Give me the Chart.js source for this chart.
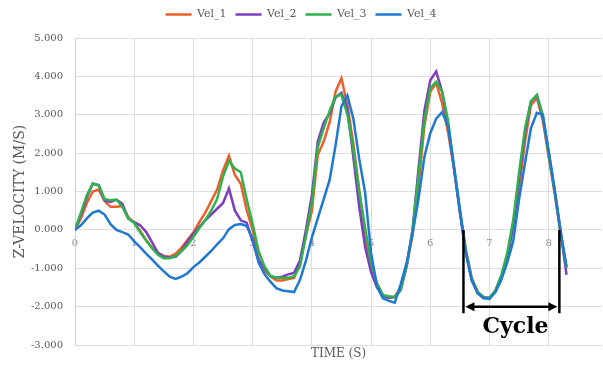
<!DOCTYPE html>
<html>
<head>
<meta charset="utf-8">
<script src="https://cdn.jsdelivr.net/npm/chart.js@4.4.1/dist/chart.umd.min.js"></script>
<style>
  html, body { margin: 0; padding: 0; background: #fff; }
  #wrap { width: 603px; height: 365px; }
</style>
</head>
<body>
<div id="wrap"><canvas id="velocityChart"></canvas></div>
<script>
// time samples (s)
const timeS = [
  0, 0.1, 0.2, 0.3, 0.4, 0.5, 0.6, 0.7, 0.8, 0.9,
  1.0, 1.1, 1.2, 1.3, 1.4, 1.5, 1.6, 1.7, 1.8, 1.9,
  2.0, 2.1, 2.2, 2.3, 2.4, 2.5, 2.6, 2.7, 2.8, 2.9,
  3.0, 3.1, 3.2, 3.3, 3.4, 3.5, 3.6, 3.7, 3.8, 3.9,
  4.0, 4.1, 4.2, 4.3, 4.4, 4.5, 4.6, 4.7, 4.8, 4.9,
  5.0, 5.1, 5.2, 5.3, 5.4, 5.5, 5.6, 5.7, 5.8, 5.9,
  6.0, 6.1, 6.2, 6.3, 6.4, 6.5, 6.6, 6.7, 6.8, 6.9,
  7.0, 7.1, 7.2, 7.3, 7.4, 7.5, 7.6, 7.7, 7.8, 7.9,
  8.0, 8.1, 8.2, 8.3
];

// z-velocity (m/s)
const vel1 = [
  0, 0.3, 0.7, 1.0, 1.05, 0.75, 0.6, 0.6, 0.62, 0.33,
  0.18, -0.02, -0.26, -0.46, -0.6, -0.68, -0.7, -0.62, -0.46, -0.26,
  -0.06, 0.2, 0.45, 0.75, 1.05, 1.55, 1.93, 1.43, 1.2, 0.51,
  0.0, -0.75, -1.05, -1.21, -1.32, -1.32, -1.28, -1.25, -0.86, -0.15,
  0.5, 1.95, 2.3, 2.8, 3.6, 3.95, 3.25, 2.26, 1.05, -0.15,
  -1.0, -1.4, -1.7, -1.77, -1.74, -1.5, -0.95, -0.15, 1.14, 2.7,
  3.6, 3.83, 3.3, 2.55, 1.6, 0.5, -0.5, -1.25, -1.62, -1.75,
  -1.78, -1.58, -1.22, -0.72, 0.15, 1.1, 2.3, 3.25, 3.44, 2.85,
  1.9, 0.95, -0.1, -1.0
];
const vel2 = [
  0, 0.4, 0.85, 1.2, 1.16, 0.77, 0.73, 0.79, 0.68, 0.29,
  0.2, 0.12, -0.05, -0.32, -0.6, -0.7, -0.72, -0.7, -0.55, -0.3,
  -0.1, 0.08, 0.25, 0.4, 0.55, 0.7, 1.08, 0.5, 0.25, 0.18,
  -0.3, -0.8, -0.98, -1.2, -1.25, -1.22, -1.16, -1.12, -0.8, 0.0,
  0.9, 2.3, 2.8, 3.03, 3.45, 3.57, 3.15, 1.9, 0.6, -0.45,
  -1.1, -1.5, -1.72, -1.77, -1.75, -1.58, -0.95, 0.0, 1.57, 3.1,
  3.9, 4.13, 3.6, 2.75, 1.6, 0.45, -0.6, -1.3, -1.63, -1.76,
  -1.77, -1.6, -1.25, -0.75, 0.1, 1.35, 2.55, 3.35, 3.5, 2.95,
  2.0, 1.05, 0.0, -1.17
];
const vel3 = [
  0, 0.45, 0.9, 1.21, 1.17, 0.8, 0.77, 0.79, 0.6, 0.3,
  0.18, -0.06, -0.28, -0.48, -0.65, -0.74, -0.74, -0.68, -0.55, -0.4,
  -0.18, 0.05, 0.25, 0.5, 0.8, 1.39, 1.8, 1.6, 1.5, 0.8,
  0.15, -0.55, -0.95, -1.2, -1.25, -1.25, -1.25, -1.21, -0.95, -0.15,
  0.7, 2.15, 2.65, 3.1, 3.48, 3.52, 3.0, 2.1, 1.0, 0.05,
  -0.85, -1.4, -1.7, -1.73, -1.75, -1.55, -0.95, 0.0, 1.4, 2.85,
  3.7, 3.86, 3.6, 2.85, 1.65, 0.55, -0.55, -1.28, -1.62, -1.76,
  -1.77, -1.58, -1.18, -0.6, 0.25, 1.5, 2.65, 3.35, 3.52, 3.0,
  1.95, 1.0, -0.05, -1.0
];
const vel4 = [
  0, 0.12, 0.3, 0.45, 0.5, 0.4, 0.15, 0.0, -0.06, -0.12,
  -0.3, -0.45, -0.62, -0.77, -0.93, -1.08, -1.22, -1.28, -1.22, -1.13,
  -0.97, -0.85, -0.7, -0.55, -0.38, -0.22, 0.02, 0.13, 0.15, 0.1,
  -0.25, -0.85, -1.15, -1.35, -1.52, -1.58, -1.6, -1.62, -1.3, -0.8,
  -0.2, 0.3, 0.8, 1.3, 2.2, 3.22, 3.5, 2.9, 1.85, 0.96,
  -0.6, -1.47, -1.78, -1.85, -1.9, -1.42, -0.86, -0.1, 0.79, 1.9,
  2.52, 2.9, 3.07, 2.7, 1.65, 0.5, -0.6, -1.32, -1.66, -1.78,
  -1.8, -1.62, -1.3, -0.85, -0.3, 0.8, 1.75, 2.65, 3.05, 3.0,
  2.05, 1.05, -0.05, -0.95
];

const seriesNames = ['Vel_1', 'Vel_2', 'Vel_3', 'Vel_4'];
const seriesColors = ['#ec5f2c', '#7b3fbe', '#2db24c', '#1f78d2'];

// the "Cycle" bracket, in data units
const cycleBounds = [6.56, 8.18];
const cycleLabel = 'Cycle';

const serif = "'DejaVu Serif', 'Liberation Serif', serif";

// give the legend a bit more room below it
const legendGap = {
  id: 'legendGap',
  afterInit(chart) {
    const lg = chart.legend;
    if (!lg) return;
    const fit = lg.fit;
    lg.fit = function () { fit.call(this); this.height += 8; };
  }
};

const cyclePlugin = {
  id: 'cycleMark',
  afterDatasetsDraw(chart) {
    const { ctx, scales: { x, y } } = chart;
    const x0 = x.getPixelForValue(cycleBounds[0]);
    const x1 = x.getPixelForValue(cycleBounds[1]);
    const yTop = y.getPixelForValue(0);
    const yBot = y.getPixelForValue(-2.17);
    const yArr = y.getPixelForValue(-2.0);
    ctx.save();
    ctx.strokeStyle = '#000';
    ctx.fillStyle = '#000';
    ctx.lineWidth = 2.5;
    ctx.beginPath();
    ctx.moveTo(x0, yTop); ctx.lineTo(x0, yBot);
    ctx.moveTo(x1, yTop); ctx.lineTo(x1, yBot);
    ctx.moveTo(x0 + 8, yArr); ctx.lineTo(x1 - 8, yArr);
    ctx.stroke();
    ctx.beginPath();
    ctx.moveTo(x0 + 2, yArr); ctx.lineTo(x0 + 11, yArr - 4.5); ctx.lineTo(x0 + 11, yArr + 4.5); ctx.closePath();
    ctx.moveTo(x1 - 2, yArr); ctx.lineTo(x1 - 11, yArr - 4.5); ctx.lineTo(x1 - 11, yArr + 4.5); ctx.closePath();
    ctx.fill();
    ctx.font = "bold 22px " + serif;
    ctx.textAlign = 'center';
    ctx.textBaseline = 'middle';
    ctx.fillText(cycleLabel, x.getPixelForValue(7.44), y.getPixelForValue(-2.53));
    ctx.restore();
  }
};

const drawOrder = [3, 2, 1, 0];

createChart();

function createChart() {
  const canvas = document.getElementById('velocityChart');
  if (!canvas) return;
  const vels = [vel1, vel2, vel3, vel4];
  new Chart(canvas, {
    type: 'line',
    data: {
      datasets: seriesNames.map((name, i) => ({
        label: name,
        data: timeS.map((t, k) => ({ x: t, y: vels[i][k] })),
        borderColor: seriesColors[i],
        backgroundColor: seriesColors[i],
        borderWidth: 2.5,
        pointRadius: 0,
        tension: 0,
        fill: false,
        order: drawOrder[i]
      }))
    },
    options: {
      responsive: true,
      maintainAspectRatio: false,
      animation: false,
      layout: { padding: { left: 0, right: 1, top: 0, bottom: 0 } },
      plugins: {
        legend: {
          position: 'top',
          labels: {
            usePointStyle: true,
            pointStyle: 'line',
            pointStyleWidth: 26,
            padding: 9,
            color: '#595959',
            font: { family: serif, size: 11 },
            sort: (a, b) => a.datasetIndex - b.datasetIndex
          }
        },
        tooltip: { enabled: false }
      },
      scales: {
        x: {
          type: 'linear',
          position: { y: 0 },
          min: 0,
          max: 8.9,
          grid: { color: '#dedede', drawTicks: false },
          border: { display: false },
          ticks: {
            stepSize: 1,
            includeBounds: false,
            padding: 8,
            color: '#8c8c8c',
            font: { family: serif, size: 10 },
            callback: v => String(v)
          }
        },
        x2: {
          type: 'linear',
          axis: 'x',
          position: 'bottom',
          min: 0,
          max: 8.9,
          grid: { display: false },
          border: { display: false },
          ticks: { display: false },
          title: {
            display: true,
            text: 'TIME (S)',
            color: '#595959',
            font: { family: serif, size: 12 },
            padding: { top: 0, bottom: 4 }
          },
          afterFit: s => { s.height = 20; }
        },
        y: {
          min: -3,
          max: 5,
          grid: { color: '#dedede', drawTicks: false },
          border: { color: '#d0d0d0' },
          ticks: {
            stepSize: 1,
            padding: 12,
            color: '#595959',
            font: { family: serif, size: 10 },
            callback: v => v.toFixed(3)
          },
          title: {
            display: true,
            text: 'Z-VELOCITY (M/S)',
            color: '#595959',
            font: { family: serif, size: 14 },
            padding: { top: 12, bottom: 4 }
          },
          afterFit: s => { s.width = 75; }
        }
      }
    },
    plugins: [legendGap, cyclePlugin]
  });
}
</script>
</body>
</html>
